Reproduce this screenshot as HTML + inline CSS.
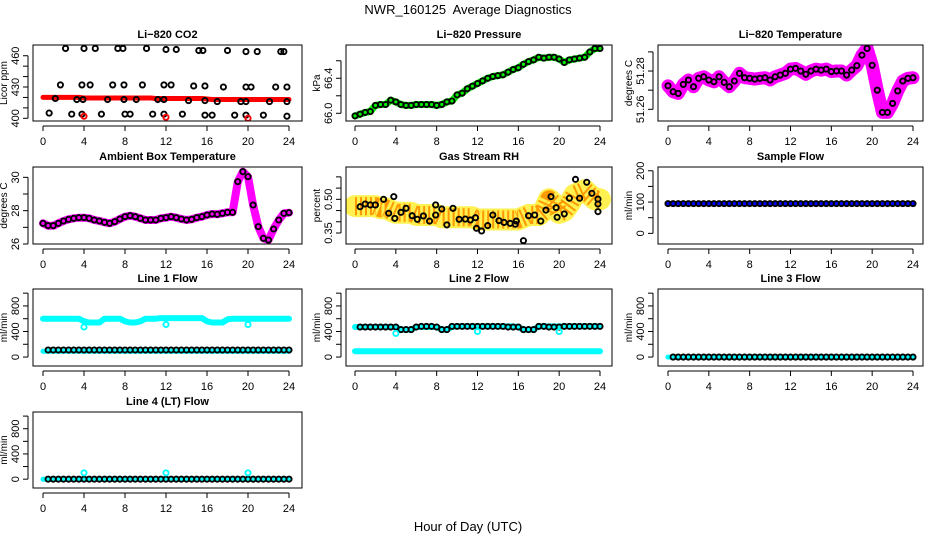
<!DOCTYPE html>
<html><head><meta charset="utf-8"><style>
body{margin:0;background:#fff;}
svg{display:block;font-family:"Liberation Sans",sans-serif;}
</style></head><body>
<svg id="c" width="936" height="540" viewBox="0 0 936 540">
<text x="468" y="14" text-anchor="middle" font-size="13" style="white-space:pre">NWR_160125  Average Diagnostics</text>
<text x="468" y="531" text-anchor="middle" font-size="13">Hour of Day (UTC)</text>
</svg>
<script>
// ---- data ----
const hours = [0,0.5,1,1.5,2,2.5,3,3.5,4,4.5,5,5.5,6,6.5,7,7.5,8,8.5,9,9.5,10,10.5,11,11.5,12,12.5,13,13.5,14,14.5,15,15.5,16,16.5,17,17.5,18,18.5,19,19.5,20,20.5,21,21.5,22,22.5,23,23.5,24];
const xTicks = [0,4,8,12,16,20,24];

const co2Band = [420,420,420,420,420,420,420,420,419.5,419.5,419.5,419.5,419.5,419.5,419.5,419.5,419.5,419.5,419.5,419.5,419.5,419.5,419,419,419,419,419,419,419,419,419,419,418.5,418,418,418,418,418,418,418,418,418,418,418,418,418,418,418,418];
const co2Hours = [0.6,1.2,1.7,2.2,2.8,3.3,3.8,3.8,3.9,4.0,4.6,5.1,5.7,6.3,6.8,7.3,7.8,7.9,7.9,8.0,8.5,9.1,9.7,10.1,10.7,11.2,11.8,11.8,11.8,12.0,12.5,13.0,13.6,14.2,14.7,15.2,15.6,15.8,15.8,15.8,16.5,17.0,17.6,18.0,18.7,19.3,19.8,19.8,19.8,19.8,20.3,20.9,21.5,22.1,22.7,23.2,23.5,23.8,23.8,23.8];
const co2Vals = [405,419,432,467,404,418,432,404,418,467,432,467,404,418,432,467,467,432,418,404,404,418,432,467,404,418,432,418,404,466,432,466,404,417,431,465,465,431,417,403,403,416,430,465,403,416,403,416,430,464,430,464,403,416,430,464,464,430,416,402];
const co2RedHours = [4,12,20];
const co2RedVals = [402,401,400];

const pressure = [65.97,65.99,66.01,66.02,66.09,66.10,66.10,66.15,66.13,66.10,66.09,66.09,66.10,66.10,66.10,66.10,66.09,66.10,66.13,66.14,66.21,66.23,66.28,66.31,66.34,66.37,66.40,66.42,66.43,66.44,66.47,66.50,66.52,66.56,66.59,66.61,66.64,66.63,66.64,66.64,66.62,66.58,66.61,66.62,66.63,66.64,66.70,66.74,66.74];

const licorTemp = [51.2723,51.2692,51.2683,51.273,51.2753,51.2718,51.2762,51.277,51.2753,51.2744,51.277,51.2741,51.2718,51.2748,51.2788,51.2765,51.2762,51.2758,51.2762,51.2765,51.2753,51.277,51.2779,51.2788,51.281,51.2814,51.28,51.2783,51.28,51.281,51.2805,51.281,51.2797,51.28,51.28,51.2779,51.2805,51.2828,51.2883,51.2918,51.283,51.27,51.2584,51.2584,51.2631,51.2696,51.2748,51.2762,51.2765];

const ambient = [27.24,27.1,27.1,27.24,27.38,27.48,27.54,27.58,27.58,27.54,27.44,27.38,27.3,27.24,27.34,27.5,27.64,27.7,27.64,27.54,27.44,27.44,27.44,27.54,27.58,27.64,27.58,27.5,27.44,27.48,27.58,27.64,27.74,27.8,27.78,27.84,27.9,27.9,29.74,30.34,30.04,28.34,27.04,26.34,26.24,26.9,27.44,27.84,27.88];

const rhBand = [0.47,0.47,0.47,0.47,0.47,0.46,0.46,0.45,0.44,0.44,0.44,0.44,0.43,0.43,0.43,0.43,0.43,0.42,0.42,0.42,0.42,0.42,0.42,0.42,0.41,0.41,0.41,0.41,0.41,0.41,0.41,0.41,0.41,0.42,0.43,0.43,0.43,0.45,0.50,0.48,0.44,0.45,0.48,0.52,0.53,0.54,0.52,0.50,0.50];
const rhHours = [0.5,1,1.5,2,2.8,3.3,3.8,3.9,4.5,5,5.6,6.1,6.7,7.3,7.9,7.9,8.5,9,9.6,10.2,10.8,11.3,11.8,11.9,12.4,13,13.5,14.1,14.6,15.2,15.7,15.8,16.5,17,17.6,18.2,18.7,19.2,19.7,19.8,20.5,21,21.6,22,22.7,23.2,23.8,23.8,23.8];
const rhVals = [0.467,0.479,0.475,0.475,0.50,0.438,0.512,0.415,0.442,0.46,0.427,0.411,0.426,0.403,0.43,0.475,0.457,0.386,0.46,0.411,0.412,0.408,0.418,0.371,0.359,0.383,0.43,0.405,0.397,0.393,0.389,0.403,0.316,0.427,0.43,0.403,0.452,0.512,0.463,0.42,0.435,0.505,0.589,0.505,0.576,0.527,0.501,0.479,0.445];

const sampleFlow = [95,95,95,95,95,95,95,95,95,95,95,95,95,95,95,95,95,95,95,95,95,95,95,95,95,95,95,95,95,95,95,95,95,95,95,95,95,95,95,95,95,95,95,95,95,95,95,95,95];

const line1High = [600,600,600,600,600,600,600,600,560,540,540,540,600,600,600,600,560,540,540,560,600,600,600,610,610,610,610,610,610,610,610,610,560,540,540,540,590,600,600,600,600,600,600,600,600,600,600,600,600];
const line1Low = [90,90,90,90,90,90,90,90,90,90,90,90,90,90,90,90,90,90,90,90,90,90,90,90,90,90,90,90,90,90,90,90,90,90,90,90,90,90,90,90,90,90,90,90,90,90,90,90,90];
const line1Black = [null,110,110,110,110,110,110,110,110,110,110,110,110,110,110,110,110,110,110,110,110,110,110,110,110,110,110,110,110,110,110,110,110,110,110,110,110,110,110,110,110,110,110,110,110,110,110,110,110];
const line1OutHours = [4,12,20];
const line1OutVals = [470,510,510];

const line2High = [470,470,470,470,470,470,470,470,470,430,430,430,470,470,470,470,470,430,430,470,480,480,480,480,480,480,480,480,480,480,480,480,470,430,430,430,480,480,480,480,480,480,480,480,480,480,480,480,480];
const line2Low = [90,90,90,90,90,90,90,90,90,90,90,90,90,90,90,90,90,90,90,90,90,90,90,90,90,90,90,90,90,90,90,90,90,90,90,90,90,90,90,90,90,90,90,90,90,90,90,90,90];
const line2Black = [null,470,470,470,470,470,470,470,470,430,430,430,470,480,480,480,470,430,430,480,480,480,480,480,480,480,480,480,480,480,470,470,470,430,430,430,480,480,470,470,470,480,480,480,480,480,480,480,480];
const line2OutHours = [4,12,20];
const line2OutVals = [370,400,400];

const line3Cyan = [0,0,0,0,0,0,0,0,0,0,0,0,0,0,0,0,0,0,0,0,0,0,0,0,0,0,0,0,0,0,0,0,0,0,0,0,0,0,0,0,0,0,0,0,0,0,0,0,0];
const line3Black = [null,0,0,0,0,0,0,0,0,0,0,0,0,0,0,0,0,0,0,0,0,0,0,0,0,0,0,0,0,0,0,0,0,0,0,0,0,0,0,0,0,0,0,0,0,0,0,0,0];
const line4Cyan = [0,0,0,0,0,0,0,0,0,0,0,0,0,0,0,0,0,0,0,0,0,0,0,0,0,0,0,0,0,0,0,0,0,0,0,0,0,0,0,0,0,0,0,0,0,0,0,0,0];
const line4Black = [null,0,0,0,0,0,0,0,0,0,0,0,0,0,0,0,0,0,0,0,0,0,0,0,0,0,0,0,0,0,0,0,0,0,0,0,0,0,0,0,0,0,0,0,0,0,0,0,0];
const line4OutHours = [4,12,20];
const line4OutVals = [100,100,100];

// ---- layout ----
const NS = "http://www.w3.org/2000/svg";
const svg = document.getElementById('c');
const cols = [{l:33,r:302,x0:43,x24:289},{l:346,r:612,x0:355,x24:600},{l:658,r:923,x0:668,x24:913}];
const rows = [{t:45,b:121},{t:167,b:244},{t:289,b:366},{t:412,b:488}];

function el(tag, attrs, parent){
  const e = document.createElementNS(NS, tag);
  for (const k in attrs) e.setAttribute(k, attrs[k]);
  (parent||svg).appendChild(e);
  return e;
}

function makePanel(ci, ri, ymin, ymax, ticks, labels, title, ylab, name){
  const c = cols[ci], r = rows[ri];
  const g = el('g', {});
  
  
  const sx = h => c.x0 + (h/24)*(c.x24 - c.x0);
  const sy = v => r.b - (v - ymin)/(ymax - ymin)*(r.b - r.t);
  const t = el('text', {x:(c.l+c.r)/2, y:r.t-7, 'text-anchor':'middle', 'font-size':'11', 'font-weight':'bold'}, g);
  t.textContent = title;
  
  
  const xa = el('g', {}, g);
  
  
  el('line', {x1:sx(0), x2:sx(24), y1:r.b+5, y2:r.b+5, stroke:'#000'}, xa);
  xTicks.forEach(h => {
    el('line', {x1:sx(h), x2:sx(h), y1:r.b+5, y2:r.b+10, stroke:'#000'}, xa);
    const tl = el('text', {x:sx(h), y:r.b+24, 'text-anchor':'middle', 'font-size':'11'}, xa);
    tl.textContent = h;
  });
  const ya = el('g', {}, g);
  
  
  el('line', {x1:c.l-5, x2:c.l-5, y1:sy(ticks[0]), y2:sy(ticks[ticks.length-1]), stroke:'#000'}, ya);
  ticks.forEach((v,i) => {
    el('line', {x1:c.l-10, x2:c.l-5, y1:sy(v), y2:sy(v), stroke:'#000'}, ya);
    if (labels[i] !== '') {
      const tx = c.l-14, ty = sy(v);
      const tl = el('text', {x:tx, y:ty, 'text-anchor':'middle', 'font-size':'11', transform:`rotate(-90 ${tx} ${ty})`}, ya);
      tl.textContent = labels[i];
    }
  });
  const yl = el('text', {x:c.l-26, y:(r.t+r.b)/2, 'text-anchor':'middle', 'font-size':'10', transform:`rotate(-90 ${c.l-26} ${(r.t+r.b)/2})`}, g);
  yl.textContent = ylab;
  
  
  const cid = 'clip-' + name;
  const cp = el('clipPath', {id:cid}, g);
  el('rect', {x:c.l, y:r.t, width:c.r-c.l, height:r.b-r.t}, cp);
  const plot = el('g', {'clip-path':`url(#${cid})`}, g);
  
  
  el('rect', {x:c.l, y:r.t, width:c.r-c.l, height:r.b-r.t, fill:'none', stroke:'#000'}, g);
  return {plot, sx, sy};
}

function band(p, xs, ys, color, w, name, extra){
  const pts = [];
  xs.forEach((h,i) => { if (ys[i] !== null) pts.push(p.sx(h).toFixed(1)+','+p.sy(ys[i]).toFixed(1)); });
  const attrs = {points:pts.join(' '), fill:'none', stroke:color, 'stroke-width':w, 'stroke-linejoin':'round', 'stroke-linecap':'round'};
  if (extra) for (const k in extra) attrs[k] = extra[k];
  const pl = el('polyline', attrs, p.plot);
  
  
}
function circles(p, xs, ys, color, name, r){
  const g = el('g', {}, p.plot);
  
  
  xs.forEach((h,i) => {
    if (ys[i] === null) return;
    const ci = el('circle', {cx:p.sx(h), cy:p.sy(ys[i]), r:r||2.6, fill:'none', stroke:color, 'stroke-width':1.9}, g);
    
    
  });
}

let p = makePanel(0,0,397.4,470.3,[400,410,420,430,440,450,460],['400','','','430','','','460'],'Li\u2212820 CO2','Licor ppm','co2');
band(p, hours, co2Band, '#ff0000', 5, 'co2-band');
circles(p, co2Hours, co2Vals, '#000', 'co2-points');
circles(p, co2RedHours, co2RedVals, '#ff0000', 'co2-red-points');

p = makePanel(1,0,65.912,66.78,[66.0,66.2,66.4,66.6],['66.0','','66.4',''],'Li\u2212820 Pressure','kPa','pressure');
band(p, hours, pressure, '#00ee00', 7, 'pressure-band');
circles(p, hours, pressure, '#000', 'pressure-points');

p = makePanel(2,0,51.2539,51.2936,[51.26,51.27,51.28,51.29],['51.26','','51.28',''],'Li\u2212820 Temperature','degrees C','licor-temp');
band(p, hours, licorTemp, '#ff00ff', 13, 'licor-temp-band');
circles(p, hours, licorTemp, '#000', 'licor-temp-points');

p = makePanel(0,1,26.0,30.62,[26,27,28,29,30],['26','','28','','30'],'Ambient Box Temperature','degrees C','ambient');
band(p, hours, ambient, '#ff00ff', 8, 'ambient-band');
circles(p, hours, ambient, '#000', 'ambient-points');

p = makePanel(1,1,0.301,0.644,[0.35,0.40,0.45,0.50,0.55,0.60],['0.35','','','0.50','',''],'Gas Stream RH','percent','rh');
band(p, hours, rhBand, '#ffee33', 22, 'rh-band', {opacity:'0.85'});
band(p, hours, rhBand, '#ff9900', 18, 'rh-band-dots', {'stroke-dasharray':'2 3', 'stroke-linecap':'butt'});
circles(p, rhHours, rhVals, '#000', 'rh-points');

p = makePanel(2,1,-34,212,[0,50,100,150,200],['0','','100','','200'],'Sample Flow','ml/min','sample-flow');
band(p, hours, sampleFlow, '#0000ff', 5, 'sample-flow-band');
circles(p, hours, sampleFlow, '#000', 'sample-flow-points');

const flowTicks = [0,200,400,600,800,1000];
const flowLabels = ['0','','400','','800',''];
p = makePanel(0,2,-140,1065,flowTicks,flowLabels,'Line 1 Flow','ml/min','line1');
band(p, hours, line1High, '#00ffff', 6, 'line1-high-band');
band(p, hours, line1Low, '#00ffff', 5, 'line1-low-band');
circles(p, hours, line1Black, '#000', 'line1-points');
circles(p, line1OutHours, line1OutVals, '#00ffff', 'line1-outliers');

p = makePanel(1,2,-140,1065,flowTicks,flowLabels,'Line 2 Flow','ml/min','line2');
band(p, hours, line2High, '#00ffff', 6, 'line2-high-band');
band(p, hours, line2Low, '#00ffff', 6, 'line2-low-band');
circles(p, hours, line2Black, '#000', 'line2-points');
circles(p, line2OutHours, line2OutVals, '#00ffff', 'line2-outliers');

p = makePanel(2,2,-140,1065,flowTicks,flowLabels,'Line 3 Flow','ml/min','line3');
band(p, hours, line3Cyan, '#00ffff', 5, 'line3-band');
circles(p, hours, line3Black, '#000', 'line3-points');

p = makePanel(0,3,-140,1065,flowTicks,flowLabels,'Line 4 (LT) Flow','ml/min','line4');
band(p, hours, line4Cyan, '#00ffff', 5, 'line4-band');
circles(p, hours, line4Black, '#000', 'line4-points');
circles(p, line4OutHours, line4OutVals, '#00ffff', 'line4-outliers');
</script>
</body></html>
